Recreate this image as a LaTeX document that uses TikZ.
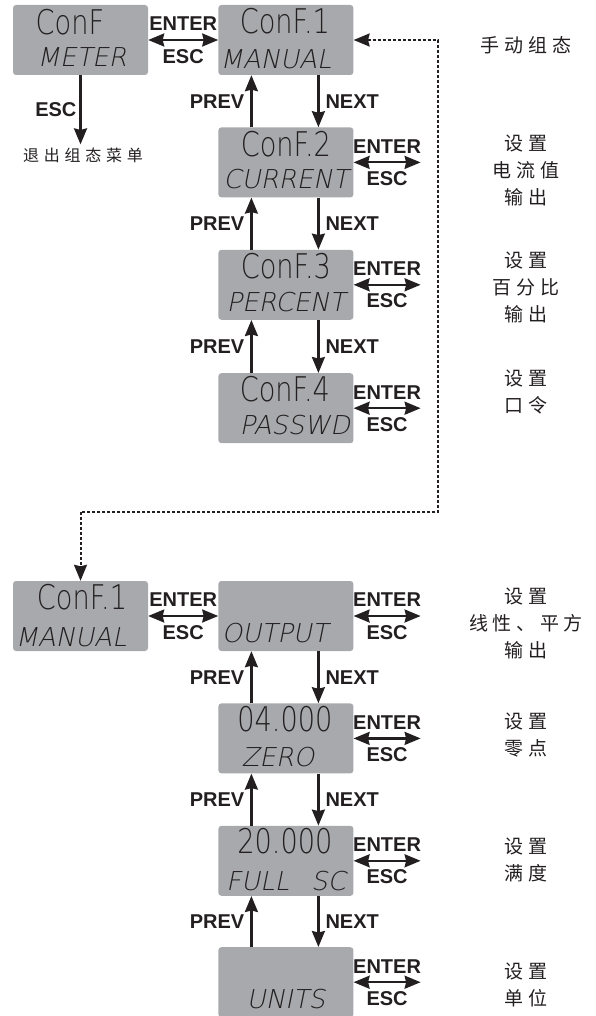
\documentclass[tikz,border=0pt]{standalone}
\usepackage{fontspec}
\setmainfont{Liberation Sans}
\newfontfamily\segfont[FakeStretch=0.8]{DejaVu Sans ExtraLight}
\newfontfamily\segslant[FakeSlant=0.2]{DejaVu Sans ExtraLight}
\newfontfamily\cjkfont[LetterSpace=25]{Noto Sans CJK SC}
\newfontfamily\cjksmall[LetterSpace=30]{Noto Sans CJK SC}
\usepackage{xcolor}
\usetikzlibrary{positioning,arrows.meta,calc}
\definecolor{lcdgray}{HTML}{A7A9AC}
\definecolor{inkdark}{HTML}{231F20}

\begin{document}
\begin{tikzpicture}[
        x=1pt, y=-1pt,
        lcd/.style={
            fill=lcdgray,
            rounded corners=3pt,
            minimum width=135pt,
            minimum height=70pt,
            inner sep=0pt
        },
        segtop/.style={font=\segfont\fontsize{34}{34}\selectfont, text=inkdark, inner sep=0pt},
        segbot/.style={font=\segslant\fontsize{26}{26}\selectfont, text=inkdark, inner sep=0pt},
        keylabel/.style={font=\fontsize{20}{20}\selectfont\bfseries, text=inkdark, inner sep=0pt},
        note/.style={font=\cjkfont\fontsize{19}{27}\selectfont, align=center, text=inkdark},
        >={Stealth[length=16pt, width=13pt, inset=1.5pt]},
        arrow/.style={->, line width=2.2pt, draw=inkdark},
        dblarrow/.style={<->, line width=2.2pt, draw=inkdark},
        dotarrow/.style={<->, line width=2pt, draw=inkdark, dash pattern=on 3pt off 2pt}
    ]
        \useasboundingbox (0,0) rectangle (596,1016);

        % Upper menu
        \node[lcd] (meter) at (80.5,40) {};
        \node[lcd, right=70pt of meter] (confone) {};
        \node[lcd, below=52pt of confone] (conftwo) {};
        \node[lcd, below=52pt of conftwo] (confthree) {};
        \node[lcd, below=53pt of confthree] (conffour) {};

        % Lower menu
        \node[lcd] (manual) at (80.5,616) {};
        \node[lcd, right=70pt of manual] (output) {};
        \node[lcd, below=52pt of output] (zero) {};
        \node[lcd, below=52pt of zero] (fullsc) {};
        \node[lcd, below=51pt of fullsc] (units) {};

        % Display texts
        \node[segtop] (meterA) at ($(meter)+(-10.5,-18)$) {ConF};
        \node[segbot] (meterB) at ($(meter)+(1.5,17)$) {METER};
        \node[segtop] (confoneA) at ($(confone)+(-1,-19)$) {ConF.1};
        \node[segbot] (confoneB) at ($(confone)+(-10,19)$) {MANUAL};
        \node[segtop] (conftwoA) at ($(conftwo)+(0,-18)$) {ConF.2};
        \node[segbot] (conftwoB) at ($(conftwo)+(0,17)$) {CURRENT};
        \node[segtop] (confthreeA) at ($(confthree)+(0,-19)$) {ConF.3};
        \node[segbot] (confthreeB) at ($(confthree)+(0,17)$) {PERCENT};
        \node[segtop] (conffourA) at ($(conffour)+(-1,-19)$) {ConF.4};
        \node[segbot] (conffourB) at ($(conffour)+(9,17)$) {PASSWD};
        \node[segtop] (manualA) at ($(manual)+(1.5,-19)$) {ConF.1};
        \node[segbot] (manualB) at ($(manual)+(-9.5,21)$) {MANUAL};
        \node[segbot] (outputB) at ($(output)+(-11,17)$) {OUTPUT};
        \node[segtop] (zeroA) at ($(zero)+(-1,-19)$) {04.000};
        \node[segbot] (zeroB) at ($(zero)+(-8,19)$) {ZERO};
        \node[segtop] (fullscA) at ($(fullsc)+(-1,-20)$) {20.000};
        \node[segbot] (fullscB) at ($(fullsc)+(0,20)$) {FULL\hspace{22pt}SC};
        \node[segbot] (unitsB) at ($(units)+(0,17)$) {UNITS};

        % Free ends of the side arrows
        \coordinate[right=67pt of conftwo] (conftwoR);
        \coordinate[right=67pt of confthree] (confthreeR);
        \coordinate[right=67pt of conffour] (conffourR);
        \coordinate[right=67pt of output] (outputR);
        \coordinate[right=67pt of zero] (zeroR);
        \coordinate[right=67pt of fullsc] (fullscR);
        \coordinate[right=67pt of units] (unitsR);
        \coordinate (loopA) at (438,40);
        \coordinate (loopB) at (438,512);
        \coordinate (loopC) at (80.5,512);

        % Exit
        \node[font=\cjksmall\fontsize{16}{16}\selectfont, text=inkdark, inner sep=3pt] (exitnote) at (83,155) {退出组态菜单};
        \draw[arrow] (meter.south) -- node[keylabel, left=3pt] (escExit) {ESC} (meter.south |- exitnote.north);

        % ENTER / ESC
        \draw[dblarrow] (meter) -- node[keylabel, above=8pt] (enterA) {ENTER} node[keylabel, below=8pt] (escA) {ESC} (confone);
        \draw[dblarrow] (conftwo) -- node[keylabel, above=8pt] (enterB) {ENTER} node[keylabel, below=8pt] (escB) {ESC} (conftwoR);
        \draw[dblarrow] (confthree) -- node[keylabel, above=8pt] (enterC) {ENTER} node[keylabel, below=8pt] (escC) {ESC} (confthreeR);
        \draw[dblarrow] (conffour) -- node[keylabel, above=8pt] (enterD) {ENTER} node[keylabel, below=8pt] (escD) {ESC} (conffourR);
        \draw[dblarrow] (manual) -- node[keylabel, above=8pt] (enterE) {ENTER} node[keylabel, below=8pt] (escE) {ESC} (output);
        \draw[dblarrow] (output) -- node[keylabel, above=8pt] (enterF) {ENTER} node[keylabel, below=8pt] (escF) {ESC} (outputR);
        \draw[dblarrow] (zero) -- node[keylabel, above=8pt] (enterG) {ENTER} node[keylabel, below=8pt] (escG) {ESC} (zeroR);
        \draw[dblarrow] (fullsc) -- node[keylabel, above=8pt] (enterH) {ENTER} node[keylabel, below=8pt] (escH) {ESC} (fullscR);
        \draw[dblarrow] (units) -- node[keylabel, above=8pt] (enterI) {ENTER} node[keylabel, below=8pt] (escI) {ESC} (unitsR);

        % PREV / NEXT
        \draw[arrow] ([xshift=-34.5pt]conftwo.north) -- node[keylabel, left=6pt] (prevA) {PREV} ([xshift=-34.5pt]confone.south);
        \draw[arrow] ([xshift=32.5pt]confone.south) -- node[keylabel, right=6pt] (nextA) {NEXT} ([xshift=32.5pt]conftwo.north);
        \draw[arrow] ([xshift=-34.5pt]confthree.north) -- node[keylabel, left=6pt] (prevB) {PREV} ([xshift=-34.5pt]conftwo.south);
        \draw[arrow] ([xshift=32.5pt]conftwo.south) -- node[keylabel, right=6pt] (nextB) {NEXT} ([xshift=32.5pt]confthree.north);
        \draw[arrow] ([xshift=-34.5pt]conffour.north) -- node[keylabel, left=6pt] (prevC) {PREV} ([xshift=-34.5pt]confthree.south);
        \draw[arrow] ([xshift=32.5pt]confthree.south) -- node[keylabel, right=6pt] (nextC) {NEXT} ([xshift=32.5pt]conffour.north);
        \draw[arrow] ([xshift=-34.5pt]zero.north) -- node[keylabel, left=6pt] (prevD) {PREV} ([xshift=-34.5pt]output.south);
        \draw[arrow] ([xshift=32.5pt]output.south) -- node[keylabel, right=6pt] (nextD) {NEXT} ([xshift=32.5pt]zero.north);
        \draw[arrow] ([xshift=-34.5pt]fullsc.north) -- node[keylabel, left=6pt] (prevE) {PREV} ([xshift=-34.5pt]zero.south);
        \draw[arrow] ([xshift=32.5pt]zero.south) -- node[keylabel, right=6pt] (nextE) {NEXT} ([xshift=32.5pt]fullsc.north);
        \draw[arrow] ([xshift=-34.5pt]units.north) -- node[keylabel, left=6pt] (prevF) {PREV} ([xshift=-34.5pt]fullsc.south);
        \draw[arrow] ([xshift=32.5pt]fullsc.south) -- node[keylabel, right=6pt] (nextF) {NEXT} ([xshift=32.5pt]units.north);

        % Link to the lower menu
        \draw[dotarrow] (confone.east) -- (loopA) -- (loopB) -- (loopC) -- (manual.north);

        % Notes
        \node[note] (noteone) at (526,45) {手动组态};
        \node[note] (notetwo) at (526,170) {设置\\电流值\\输出};
        \node[note] (notethree) at (526,287) {设置\\百分比\\输出};
        \node[note] (notefour) at (526,392) {设置\\口令};
        \node[note] (notefive) at (526,623) {设置\\线性、平方\\输出};
        \node[note] (notesix) at (526,735) {设置\\零点};
        \node[note] (noteseven) at (526,860) {设置\\满度};
        \node[note] (noteeight) at (526,985) {设置\\单位};

    \end{tikzpicture}
\end{document}
